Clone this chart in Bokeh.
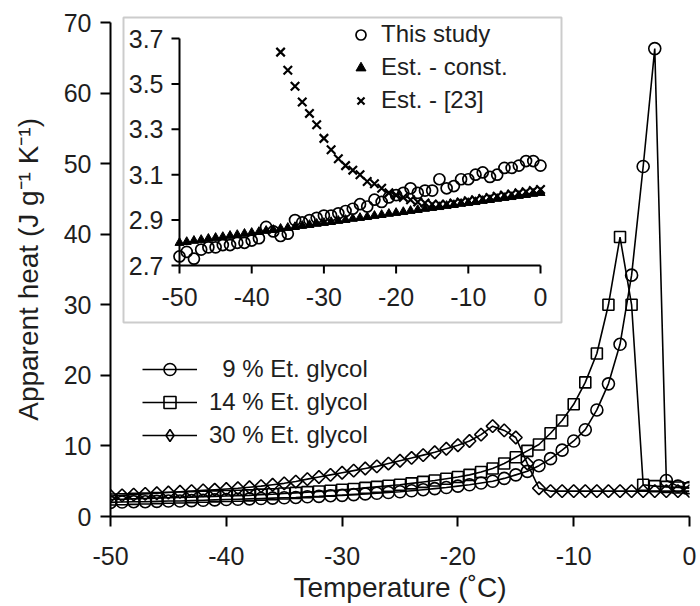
import math
import numpy as np
from bokeh.plotting import figure
from bokeh.models import Range1d, FixedTicker, Legend, LegendItem
from bokeh.core.properties import value
from bokeh.embed import file_html
from bokeh.resources import INLINE

# ---------------- data (main chart) ----------------
temps = [-50, -49, -48, -47, -46, -45, -44, -43, -42, -41,
         -40, -39, -38, -37, -36, -35, -34, -33, -32, -31,
         -30, -29, -28, -27, -26, -25, -24, -23, -22, -21,
         -20, -19, -18, -17, -16, -15, -14, -13, -12, -11,
         -10, -9, -8, -7, -6, -5, -4, -3, -2, -1, 0]

heat_9 = [2.0, 2.05, 2.1, 2.1, 2.15, 2.2, 2.2, 2.25, 2.3, 2.35,
          2.4, 2.45, 2.5, 2.55, 2.6, 2.65, 2.7, 2.8, 2.85, 2.95,
          3.0, 3.1, 3.2, 3.3, 3.4, 3.5, 3.65, 3.8, 3.95, 4.1,
          4.3, 4.5, 4.75, 5.0, 5.4, 5.9, 6.4, 7.2, 8.2, 9.4,
          10.7, 12.3, 15.1, 18.8, 24.4, 34.2, 49.6, 66.3, 5.1, 4.3, 4.1]

heat_14 = [2.4, 2.45, 2.5, 2.55, 2.6, 2.65, 2.7, 2.75, 2.8, 2.85,
           2.9, 2.95, 3.0, 3.1, 3.15, 3.25, 3.35, 3.45, 3.55, 3.65,
           3.8, 3.9, 4.05, 4.2, 4.35, 4.5, 4.7, 4.9, 5.1, 5.35,
           5.6, 5.9, 6.3, 6.8, 7.5, 8.4, 9.3, 10.2, 11.8, 13.6,
           15.9, 19.0, 23.1, 30.0, 39.6, 30.0, 4.5, 4.3, 4.2, 4.1, 4.0]

heat_30 = [2.9, 3.0, 3.1, 3.2, 3.3, 3.4, 3.5, 3.6, 3.7, 3.8,
           3.9, 4.0, 4.15, 4.3, 4.5, 4.7, 4.95, 5.3, 5.6, 5.9,
           6.2, 6.5, 6.8, 7.1, 7.5, 7.9, 8.3, 8.7, 9.1, 9.6,
           10.1, 10.7, 11.6, 12.8, 12.2, 11.2, 7.5, 4.0, 3.6, 3.6,
           3.6, 3.6, 3.6, 3.6, 3.6, 3.6, 3.6, 3.6, 3.6, 3.6, 3.6]

x_ticks = [-50, -40, -30, -20, -10, 0]
y_ticks = [0, 10, 20, 30, 40, 50, 60, 70]
series_labels = ["  9 % Et. glycol", "14 % Et. glycol", "30 % Et. glycol"]

# ---------------- data (inset) ----------------
study = [2.74, 2.76, 2.73, 2.77, 2.78, 2.78, 2.79, 2.79, 2.80, 2.80,
         2.81, 2.82, 2.87, 2.85, 2.83, 2.84, 2.90, 2.89, 2.90, 2.91,
         2.92, 2.92, 2.93, 2.94, 2.95, 2.97, 2.96, 2.99, 2.98, 3.00,
         3.01, 3.02, 3.04, 3.02, 3.03, 3.03, 3.08, 3.04, 3.05, 3.08,
         3.08, 3.10, 3.11, 3.09, 3.10, 3.13, 3.13, 3.14, 3.16, 3.16, 3.14]

est_const = [2.800, 2.804, 2.809, 2.813, 2.818, 2.822, 2.826, 2.831, 2.835, 2.840,
             2.844, 2.848, 2.853, 2.857, 2.862, 2.866, 2.870, 2.875, 2.879, 2.884,
             2.888, 2.892, 2.897, 2.901, 2.906, 2.910, 2.914, 2.919, 2.923, 2.928,
             2.932, 2.936, 2.941, 2.945, 2.950, 2.954, 2.958, 2.963, 2.967, 2.972,
             2.976, 2.980, 2.985, 2.989, 2.994, 2.998, 3.002, 3.007, 3.011, 3.016, 3.020]

est23_temps = [-36, -35, -34, -33, -32, -31, -30, -29, -28, -27,
               -26, -25, -24, -23, -22, -21, -20, -19, -18, -17,
               -16, -15, -14, -13, -12, -11, -10, -9, -8, -7,
               -6, -5, -4, -3, -2, -1, 0]
est23 = [3.64, 3.56, 3.49, 3.42, 3.37, 3.32, 3.26, 3.21, 3.17, 3.14,
         3.12, 3.10, 3.07, 3.06, 3.04, 3.02, 3.01, 3.00, 2.99, 2.98,
         2.975, 2.97, 2.97, 2.97, 2.975, 2.98, 2.985, 2.99, 2.995, 3.0,
         3.005, 3.01, 3.015, 3.02, 3.025, 3.03, 3.035]

inset_x_ticks = [-50, -40, -30, -20, -10, 0]
inset_x_labels = ["-50", "-40", "-30", "-20", "-10", "0"]
inset_y_ticks = [2.7, 2.9, 3.1, 3.3, 3.5, 3.7]
inset_y_labels = ["2.7", "2.9", "3.1", "3.3", "3.5", "3.7"]
inset_labels = ["This study", "Est. - const.", "Est. - [23]"]

# ---------------- layout (page pixels; Bokeh page has no body margin) ----------------
FIG_W, FIG_H = 700, 606
FRAME_L, FRAME_R, FRAME_T, FRAME_B = 110, 689, 14, 516
Y_TOP_TICK_PX = 22
IN_X0_PX, IN_X1_PX = 179, 540
IN_Y0_PX, IN_Y1_PX = 265, 38
BOX_L, BOX_R, BOX_T, BOX_B = 123, 561, 17, 322

FONT = "Liberation Sans"
TXT = "#1e1e1e"

y_scale = (FRAME_B - Y_TOP_TICK_PX) / (y_ticks[-1] - y_ticks[0])
y_end = y_ticks[-1] + (Y_TOP_TICK_PX - FRAME_T) / y_scale

ix_scale = (IN_X1_PX - IN_X0_PX) / (inset_x_ticks[-1] - inset_x_ticks[0])
ix_start = inset_x_ticks[0] - (IN_X0_PX - FRAME_L) / ix_scale
ix_end = inset_x_ticks[-1] + (FRAME_R - IN_X1_PX) / ix_scale
iy_scale = (IN_Y0_PX - IN_Y1_PX) / (inset_y_ticks[-1] - inset_y_ticks[0])
iy_start = inset_y_ticks[0] - (FRAME_B - IN_Y0_PX) / iy_scale
iy_end = inset_y_ticks[-1] + (IN_Y1_PX - FRAME_T) / iy_scale

def ixv(px):
    return inset_x_ticks[0] + (px - IN_X0_PX) / ix_scale

def iyv(px):
    return inset_y_ticks[0] + (IN_Y0_PX - px) / iy_scale

p = figure(width=FIG_W, height=FIG_H, output_backend="svg", toolbar_location=None,
           x_range=Range1d(x_ticks[0], x_ticks[-1]), y_range=Range1d(y_ticks[0], y_end),
           min_border_left=FRAME_L, min_border_right=FIG_W - FRAME_R,
           min_border_top=FRAME_T, min_border_bottom=FIG_H - FRAME_B)
p.extra_x_ranges = {"ix": Range1d(ix_start, ix_end)}
p.extra_y_ranges = {"iy": Range1d(iy_start, iy_end)}
p.outline_line_color = None
p.xgrid.visible = False
p.ygrid.visible = False
p.background_fill_color = "white"

for ax in (p.xaxis[0], p.yaxis[0]):
    ax.axis_line_width = 2
    ax.axis_line_color = "black"
    ax.major_tick_line_width = 2
    ax.major_tick_line_color = "black"
    ax.major_tick_out = 10
    ax.major_tick_in = 0
    ax.minor_tick_out = 0
    ax.minor_tick_in = 0
    ax.major_label_text_font = FONT
    ax.major_label_text_font_size = "25px"
    ax.major_label_text_color = TXT
    ax.axis_label_text_font = FONT
    ax.axis_label_text_font_size = "28px"
    ax.axis_label_text_font_style = "normal"
    ax.axis_label_text_color = TXT

p.xaxis.ticker = FixedTicker(ticks=x_ticks)
p.xaxis.bounds = (x_ticks[0], x_ticks[-1])
p.xaxis.major_label_overrides = {t: str(t) for t in x_ticks}
p.xaxis.major_label_standoff = 20
p.xaxis.axis_label = "Temperature (\u02daC)"
p.xaxis.axis_label_standoff = 4

p.yaxis.ticker = FixedTicker(ticks=y_ticks)
p.yaxis.bounds = (y_ticks[0], y_ticks[-1])
p.yaxis.major_label_overrides = {t: str(t) for t in y_ticks}
p.yaxis.major_label_standoff = 9
p.yaxis.axis_label = "Apparent heat  (J g\u207b\u00b9 K\u207b\u00b9)"
p.yaxis.axis_label_standoff = 17

# ---------------- inset frame box ----------------
p.quad(left=[ixv(BOX_L)], right=[ixv(BOX_R)], top=[iyv(BOX_T)], bottom=[iyv(BOX_B)],
       x_range_name="ix", y_range_name="iy", fill_color="white",
       line_color="#cccccc", line_width=2)

# ---------------- main series ----------------
specs = [(heat_9, "circle", 12, 0.0, "circle", 12),
         (heat_14, "square", 11, 0.0, "square", 11),
         (heat_30, "square", 9, math.pi / 4, "diamond", 13)]
main_items = []
for (vals, mk, sz, ang, leg_mk, leg_sz), lab in zip(specs, series_labels):
    ln = p.line(temps, vals, line_color="black", line_width=1.6)
    sc = p.scatter(temps, vals, marker=mk, size=sz, angle=ang, fill_color=None,
                   line_color="black", line_width=1.6)
    if ang:
        # legend key symbol only (a single NaN point, nothing drawn in the plot);
        # legend glyphs are drawn unrotated, so a diamond stands in for the rotated square
        key = p.scatter(x=np.array([np.nan]), y=np.array([np.nan]), marker=leg_mk, size=leg_sz,
                        fill_color=None, line_color="black", line_width=1.6)
        main_items.append(LegendItem(label=lab, renderers=[ln, key]))
    else:
        main_items.append(LegendItem(label=lab, renderers=[ln, sc]))

# ---------------- inset axes ----------------
kw = dict(x_range_name="ix", y_range_name="iy")
p.segment(x0=[inset_x_ticks[0]], y0=[inset_y_ticks[0]], x1=[inset_x_ticks[0]], y1=[inset_y_ticks[-1]],
          line_color="black", line_width=2, **kw)
p.segment(x0=[inset_x_ticks[0]], y0=[inset_y_ticks[0]], x1=[inset_x_ticks[-1]], y1=[inset_y_ticks[0]],
          line_color="black", line_width=2, **kw)
p.ray(x=[inset_x_ticks[0]] * len(inset_y_ticks), y=inset_y_ticks, length=8, length_units="screen",
      angle=math.pi, line_color="black", line_width=2, **kw)
p.ray(x=inset_x_ticks, y=[inset_y_ticks[0]] * len(inset_x_ticks), length=8, length_units="screen",
      angle=-math.pi / 2, line_color="black", line_width=2, **kw)
p.text(x=[inset_x_ticks[0]] * len(inset_y_ticks), y=inset_y_ticks, text=inset_y_labels,
       x_offset=-16, text_align="right", text_baseline="middle",
       text_font=value(FONT), text_font_size="25px", text_color=TXT, **kw)
p.text(x=inset_x_ticks, y=[inset_y_ticks[0]] * len(inset_x_ticks), text=inset_x_labels,
       y_offset=31, text_align="center", text_baseline="alphabetic",
       text_font=value(FONT), text_font_size="25px", text_color=TXT, **kw)

# ---------------- inset series ----------------
r_x = p.scatter(est23_temps, est23, marker="x", size=12, line_color="black", line_width=2.2, **kw)
r_tri = p.scatter(temps, est_const, marker="triangle", size=9, fill_color="black",
                  line_color="black", line_width=1, **kw)
r_c = p.scatter(temps, study, marker="circle", size=11, fill_color=None,
                line_color="black", line_width=1.7, **kw)

# ---------------- legends ----------------
main_legend = Legend(items=main_items, location=(32, 66), orientation="vertical",
                     glyph_width=55, glyph_height=30, label_standoff=12, spacing=3,
                     padding=0, margin=0, border_line_color=None, background_fill_alpha=0,
                     label_text_font=FONT, label_text_font_size="24px", label_text_color=TXT)
p.add_layout(main_legend)

inset_legend = Legend(items=[LegendItem(label=inset_labels[0], renderers=[r_c]),
                             LegendItem(label=inset_labels[1], renderers=[r_tri]),
                             LegendItem(label=inset_labels[2], renderers=[r_x])],
                      location=(238, 402), orientation="vertical",
                      glyph_width=25, glyph_height=25, label_standoff=8, spacing=5,
                      padding=0, margin=0, border_line_color=None, background_fill_alpha=0,
                      label_text_font=FONT, label_text_font_size="24px", label_text_color=TXT)
p.add_layout(inset_legend)

open("out.html", "w").write(file_html(p, INLINE))
